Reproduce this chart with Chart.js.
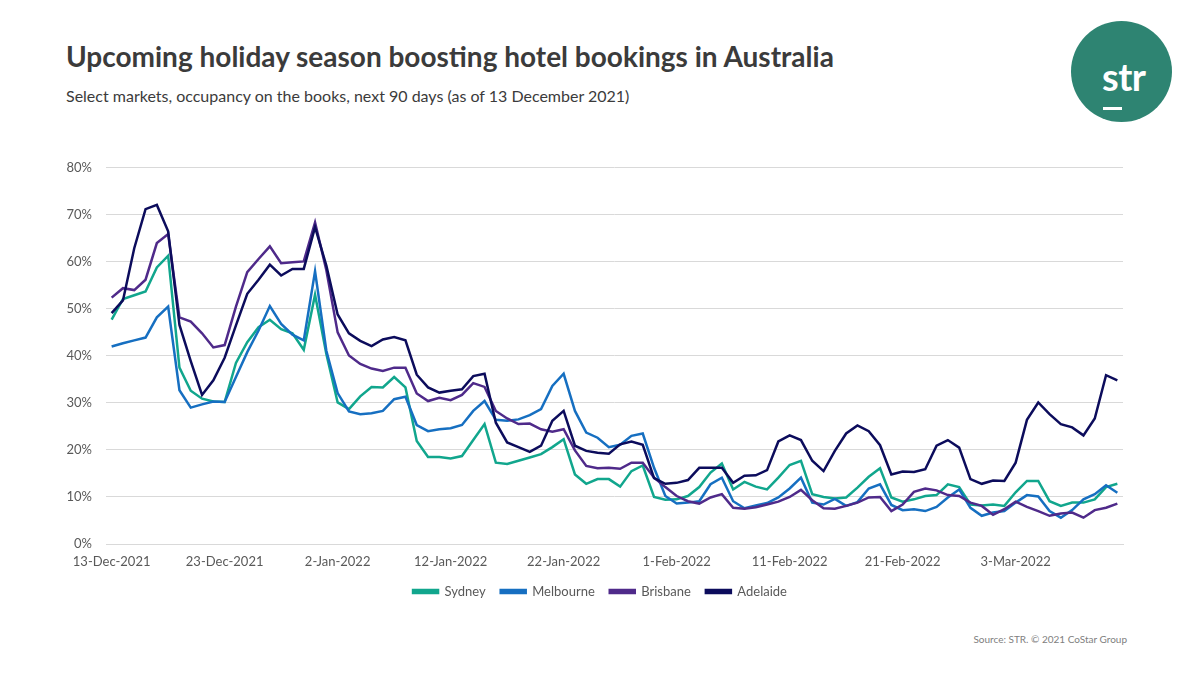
<!DOCTYPE html>
<html>
<head>
<meta charset="utf-8">
<script src="https://cdn.jsdelivr.net/npm/chart.js@4"></script>
<style>
  html, body { margin: 0; padding: 0; background: #fff; }
  body { width: 1200px; height: 675px; position: relative; overflow: hidden; font-family: Lato, "Open Sans", sans-serif; }
  #title { position: absolute; left: 66px; top: 40px; font-size: 28px; font-weight: 700; color: #3b3b3b; line-height: 1.2; white-space: nowrap; }
  #subtitle { position: absolute; left: 66px; top: 86px; font-size: 16px; color: #3b3b3b; line-height: 1.2; white-space: nowrap; }
  #logo { position: absolute; left: 1071px; top: 21px; width: 101px; height: 101px; border-radius: 50%; background: #2e8472; }
  #logo span { position: absolute; left: 31px; top: 36px; color: #fff; font-size: 38px; font-weight: 700; line-height: 1; letter-spacing: -0.5px; }
  #logo i { position: absolute; left: 32px; top: 86px; width: 19px; height: 3px; background: #fff; }
  #wrap { position: absolute; left: 0; top: 146px; width: 1200px; height: 470px; }
  #source { position: absolute; right: 73px; top: 633px; font-size: 10px; color: #808080; white-space: nowrap; }
</style>
</head>
<body>
<div id="title">Upcoming holiday season boosting hotel bookings in Australia</div>
<div id="subtitle">Select markets, occupancy on the books, next 90 days (as of 13 December 2021)</div>
<div id="logo"><span>str</span><i></i></div>
<div id="wrap"><canvas id="chart"></canvas></div>
<div id="source">Source: STR. © 2021 CoStar Group</div>
<script>
  // 90 jours à partir du 13-Dec-2021 (catégories)
  const startDate = new Date(2021, 11, 13);
  const monthNames = ['Jan', 'Feb', 'Mar', 'Apr', 'May', 'Jun', 'Jul', 'Aug', 'Sep', 'Oct', 'Nov', 'Dec'];
  const categories = [];
  for (let i = 0; i < 90; i++) {
    const d = new Date(startDate.getFullYear(), startDate.getMonth(), startDate.getDate() + i);
    categories.push(d.getDate() + '-' + monthNames[d.getMonth()] + '-' + d.getFullYear());
  }
  const tickEvery = 10;
  const yTicks = [0, 10, 20, 30, 40, 50, 60, 70, 80];

  // occupancy (%)
  const sydney = [
    47.7, 52.1, 52.9, 53.7, 58.8, 61.3, 37.5, 32.6, 30.9, 30.3,
    30.2, 38.5, 42.9, 46.1, 47.7, 45.7, 44.8, 41.3, 53.0, 40.4,
    30.1, 28.7, 31.4, 33.4, 33.3, 35.5, 33.3, 21.9, 18.5, 18.5,
    18.2, 18.7, 22.1, 25.5, 17.3, 17.0, 17.7, 18.4, 19.1, 20.6,
    22.3, 14.8, 12.8, 13.8, 13.8, 12.2, 15.5, 16.7, 10.0, 9.4,
    9.5, 10.2, 12.1, 15.2, 17.1, 11.6, 13.2, 12.2, 11.6, 14.1,
    16.8, 17.7, 10.6, 10.0, 9.7, 9.9, 12.0, 14.3, 16.1, 9.9,
    9.0, 9.5, 10.2, 10.4, 12.7, 12.1, 8.4, 8.2, 8.4, 8.1,
    11.0, 13.4, 13.4, 9.1, 8.1, 8.8, 8.8, 9.5, 12.1, 12.8
  ];
  const melbourne = [
    42.0, 42.7, 43.3, 43.9, 48.2, 50.5, 32.7, 29.0, 29.7, 30.3,
    30.2, 35.5, 40.8, 45.4, 50.6, 46.8, 44.5, 43.3, 58.0, 41.1,
    32.1, 28.2, 27.6, 27.8, 28.3, 30.8, 31.3, 25.3, 24.0, 24.4,
    24.6, 25.3, 28.3, 30.4, 26.4, 26.2, 26.5, 27.4, 28.7, 33.6,
    36.2, 28.3, 23.7, 22.6, 20.6, 21.1, 23.0, 23.5, 16.2, 10.2,
    8.6, 8.8, 9.1, 12.7, 14.1, 9.1, 7.6, 8.2, 8.7, 9.9,
    11.8, 14.1, 8.8, 8.4, 9.6, 8.1, 8.9, 11.8, 12.7, 8.3,
    7.2, 7.4, 7.0, 7.9, 9.9, 11.6, 7.7, 6.0, 6.7, 7.0,
    8.8, 10.4, 10.1, 7.0, 5.6, 7.2, 9.5, 10.6, 12.5, 10.9
  ];
  const brisbane = [
    52.4, 54.4, 54.0, 56.2, 64.0, 65.9, 48.2, 47.3, 44.8, 41.8,
    42.3, 50.5, 57.8, 60.6, 63.3, 59.7, 59.9, 60.1, 68.4, 58.2,
    45.0, 40.1, 38.3, 37.3, 36.8, 37.5, 37.5, 32.0, 30.4, 31.1,
    30.6, 31.7, 34.2, 33.4, 28.3, 26.7, 25.5, 25.6, 24.4, 23.9,
    24.4, 19.9, 16.6, 16.1, 16.2, 16.0, 17.3, 17.3, 14.1, 12.1,
    10.2, 9.1, 8.6, 9.9, 10.6, 7.7, 7.5, 7.8, 8.4, 9.0,
    10.0, 11.5, 9.3, 7.6, 7.5, 8.1, 8.8, 9.9, 10.0, 7.0,
    8.4, 11.1, 11.8, 11.4, 10.4, 10.2, 8.8, 8.1, 6.2, 7.4,
    9.0, 7.9, 7.0, 6.0, 6.5, 6.7, 5.6, 7.2, 7.7, 8.6
  ];
  const adelaide = [
    49.1, 51.8, 62.9, 71.2, 72.1, 66.5, 46.6, 38.9, 31.7, 34.8,
    39.6, 46.5, 53.2, 56.2, 59.4, 57.1, 58.5, 58.5, 67.4, 59.2,
    48.8, 44.8, 43.2, 42.1, 43.5, 44.0, 43.3, 36.0, 33.3, 32.2,
    32.6, 32.9, 35.7, 36.2, 25.8, 21.6, 20.6, 19.6, 20.9, 26.2,
    28.3, 20.9, 19.8, 19.4, 19.2, 21.2, 21.8, 21.1, 14.0, 12.8,
    13.0, 13.6, 16.2, 16.2, 16.2, 13.0, 14.5, 14.6, 15.7, 21.8,
    23.1, 22.1, 17.7, 15.5, 19.8, 23.5, 25.2, 24.0, 21.0, 14.8,
    15.4, 15.3, 15.9, 20.9, 22.1, 20.5, 13.8, 12.8, 13.5, 13.4,
    17.3, 26.4, 30.1, 27.6, 25.5, 24.8, 23.1, 26.7, 35.9, 34.8
  ];

  const seriesNames = ['Sydney', 'Melbourne', 'Brisbane', 'Adelaide'];
  const seriesColors = ['#11a68d', '#166fc1', '#4f2a8a', '#0c0c5c'];
  const seriesData = [sydney, melbourne, brisbane, adelaide];

  const gray = '#595959';
  const gridColor = '#d9d9d9';

  new Chart(document.getElementById('chart'), {
    type: 'line',
    data: {
      labels: categories,
      datasets: seriesData.map((vals, i) => ({
        label: seriesNames[i],
        data: vals,
        borderColor: seriesColors[i],
        backgroundColor: seriesColors[i],
        borderWidth: 2.5,
        pointRadius: 0,
        tension: 0,
        order: seriesData.length - i
      }))
    },
    options: {
      responsive: true,
      maintainAspectRatio: false,
      animation: false,
      layout: { padding: { top: 13, right: 0, bottom: 8, left: 0 } },
      plugins: {
        tooltip: { enabled: false },
        legend: {
          position: 'bottom',
          labels: {
            color: gray,
            font: { family: 'Lato', size: 13 },
            boxWidth: 25,
            boxHeight: 3,
            padding: 15,
            sort: (a, b) => a.datasetIndex - b.datasetIndex
          }
        }
      },
      scales: {
        x: {
          offset: true,
          afterFit: s => { s.height = 26; },
          grid: { display: false, drawTicks: false },
          border: { display: true, color: gridColor, width: 1 },
          ticks: {
            color: gray,
            font: { family: 'Lato', size: 13 },
            autoSkip: false,
            maxRotation: 0,
            padding: 10,
            callback: function (v, i) {
              return i % tickEvery === 0 ? this.getLabelForValue(v) : null;
            }
          }
        },
        y: {
          min: 0,
          max: 80,
          afterFit: s => { s.width = 106; },
          afterBuildTicks: s => { s.ticks = yTicks.map(v => ({ value: v })); },
          grid: { color: gridColor, drawTicks: false },
          border: { display: false },
          ticks: {
            color: gray,
            font: { family: 'Lato', size: 13 },
            padding: 14,
            callback: v => v + '%'
          }
        },
        // axe vide à droite : marge droite sans décentrer la légende
        yRight: {
          position: 'right',
          afterFit: s => { s.width = 77; },
          grid: { display: false, drawTicks: false },
          border: { display: false },
          ticks: { display: false }
        }
      }
    }
  });
</script>
</body>
</html>
